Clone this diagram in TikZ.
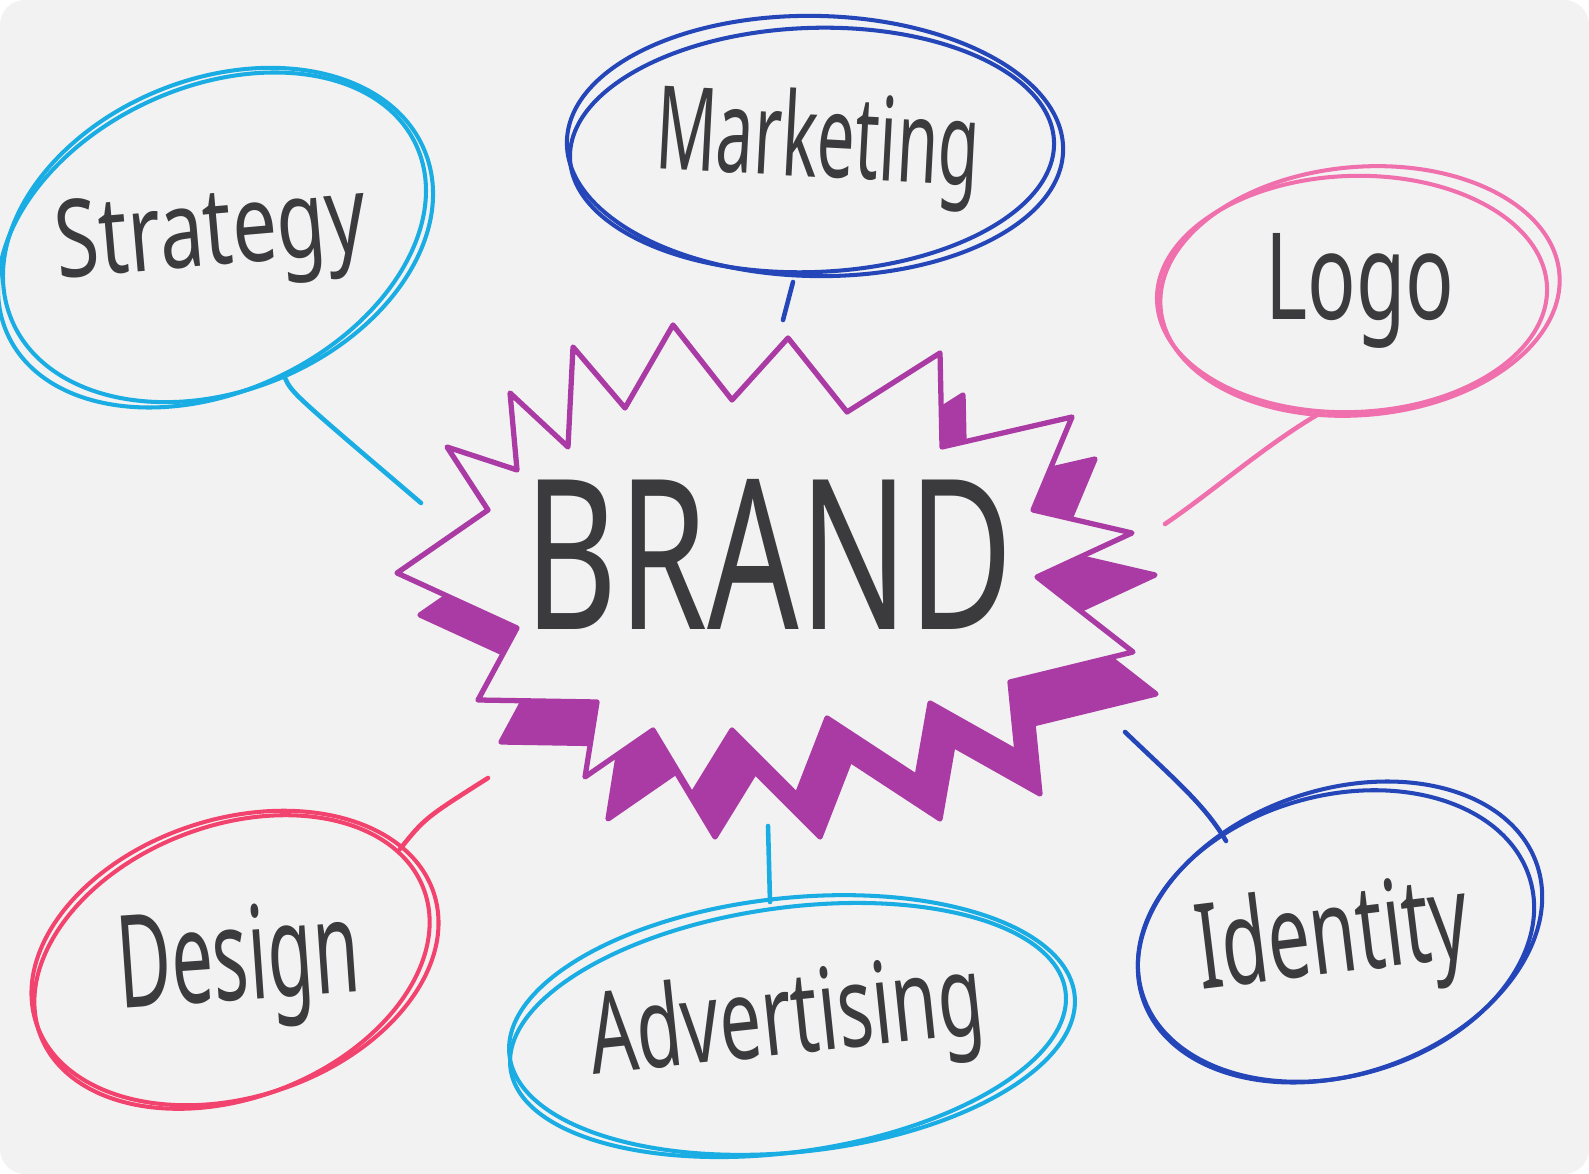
\documentclass[tikz,border=0pt]{standalone}
\usepackage{graphicx}
\usepackage{fontspec}
\setmainfont{Noto Sans}
\definecolor{bg}{HTML}{F2F2F2}
\definecolor{skyc}{HTML}{1AADE4}
\definecolor{navyc}{HTML}{2446B8}
\definecolor{pinkc}{HTML}{F070AE}
\definecolor{redc}{HTML}{F2436F}
\definecolor{purp}{HTML}{AA3BA4}
\definecolor{ink}{HTML}{3B3B3D}
\tikzset{
  bub/.style={line width=1.15pt, line cap=round},
  conn/.style={line width=1.3pt, line cap=round},
  lbl/.style={text=ink, inner sep=0pt, anchor=base},
  burst/.style={line width=1.5pt, line join=round},
}
\begin{document}
\begin{tikzpicture}[x=0.01cm,y=-0.01cm]
\useasboundingbox (0,0) rectangle (1589,1174);
\fill[white] (0,0) rectangle (1589,1174);
\fill[bg, rounded corners=0.25cm] (0,0) rectangle (1589,1174);

% ---------- starburst ----------
\def\burstpath{(397,573) -- (488,510) -- (447,447) -- (517,470) -- (510,393) -- (568,447) -- (573,347) -- (625,408) -- (673,325) -- (732,400) -- (788,338) -- (847,412) -- (940,353) -- (942,447) -- (1072,417) -- (1033,510) -- (1132,533) -- (1037,577) -- (1133,652) -- (1010,682) -- (1017,752) -- (930,703) -- (917,777) -- (827,718) -- (797,795) -- (732,730) -- (692,795) -- (653,730) -- (585,777) -- (597,702) -- (478,700) -- (517,628) -- cycle}
\begin{scope}
  \clip (900,0) rectangle (1589,1174) (0,545) rectangle (900,1174);
  \filldraw[purp, burst, shift={(23,42)}] \burstpath;
\end{scope}
\filldraw[fill=bg, draw=purp, burst] \burstpath;

% ---------- bubbles ----------
% Strategy
\draw[skyc, bub, rotate around={22:(218,235)}] (218,235) ellipse [x radius=2.23cm, y radius=1.56cm];
\draw[skyc, bub, rotate around={25:(212,240)}] (212,240) ellipse [x radius=2.25cm, y radius=1.52cm];
% Marketing
\draw[navyc, bub, rotate around={-1:(815,146)}] (815,146) ellipse [x radius=2.48cm, y radius=1.30cm];
\draw[navyc, bub, rotate around={2:(812,150)}] (812,150) ellipse [x radius=2.42cm, y radius=1.22cm];
% Logo
\draw[pinkc, bub, rotate around={5:(1360,291)}] (1360,291) ellipse [x radius=2.00cm, y radius=1.24cm];
\draw[pinkc, bub, rotate around={2:(1352,294)}] (1352,294) ellipse [x radius=1.95cm, y radius=1.18cm];
% Design
\draw[redc, bub, rotate around={18:(235,958)}] (235,958) ellipse [x radius=2.09cm, y radius=1.39cm];
\draw[redc, bub, rotate around={21:(232,962)}] (232,962) ellipse [x radius=2.05cm, y radius=1.36cm];
% Advertising
\draw[skyc, bub, rotate around={6:(792,1025)}] (792,1025) ellipse [x radius=2.84cm, y radius=1.27cm];
\draw[skyc, bub, rotate around={8:(788,1030)}] (788,1030) ellipse [x radius=2.80cm, y radius=1.22cm];
% Identity
\draw[navyc, bub, rotate around={19:(1340,932)}] (1340,932) ellipse [x radius=2.08cm, y radius=1.42cm];
\draw[navyc, bub, rotate around={16:(1336,936)}] (1336,936) ellipse [x radius=2.02cm, y radius=1.40cm];

% ---------- connector ends ----------
\coordinate (s1) at (285,378);  \coordinate (s2) at (421,503);
\coordinate (m1) at (793,282);  \coordinate (m2) at (783,320);
\coordinate (l1) at (1322,412); \coordinate (l2) at (1165,524);
\coordinate (d1) at (400,849);  \coordinate (d2) at (488,778);
\coordinate (a1) at (770,902);  \coordinate (a2) at (768,826);
\coordinate (i1) at (1226,841); \coordinate (i2) at (1125,732);

\draw[skyc, conn] (s1) .. controls (292,393) .. (s2);
\draw[navyc, conn] (m1) -- (m2);
\draw[pinkc, conn] (l1) .. controls (1265,445) and (1215,490) .. (l2);
\draw[redc, conn] (d1) .. controls (425,818) .. (d2);
\draw[skyc, conn] (a1) -- (a2);
\draw[navyc, conn] (i1) .. controls (1205,805) and (1175,780) .. (i2);

% ---------- labels ----------
\node[lbl, rotate=5]  (tstrat) at (214,265)  {\resizebox{3.11cm}{0.78cm}{Strategy}};
\node[lbl, rotate=-3] (tmark)  at (816,177)  {\resizebox{3.24cm}{0.88cm}{Marketing}};
\node[lbl]            (tlogo)  at (1360,320) {\resizebox{1.89cm}{0.86cm}{Logo}};
\node[lbl, rotate=4]  (tdes)   at (241,1000) {\resizebox{2.42cm}{0.95cm}{Design}};
\node[lbl, rotate=6]  (tadv)   at (790,1054) {\resizebox{3.95cm}{0.86cm}{Advertising}};
\node[lbl, rotate=7]  (tiden)  at (1337,973) {\resizebox{2.73cm}{0.90cm}{Identity}};
\node[lbl]            (tbrand) at (769,630)  {\resizebox{4.88cm}{1.50cm}{BRAND}};
\end{tikzpicture}
\end{document}
